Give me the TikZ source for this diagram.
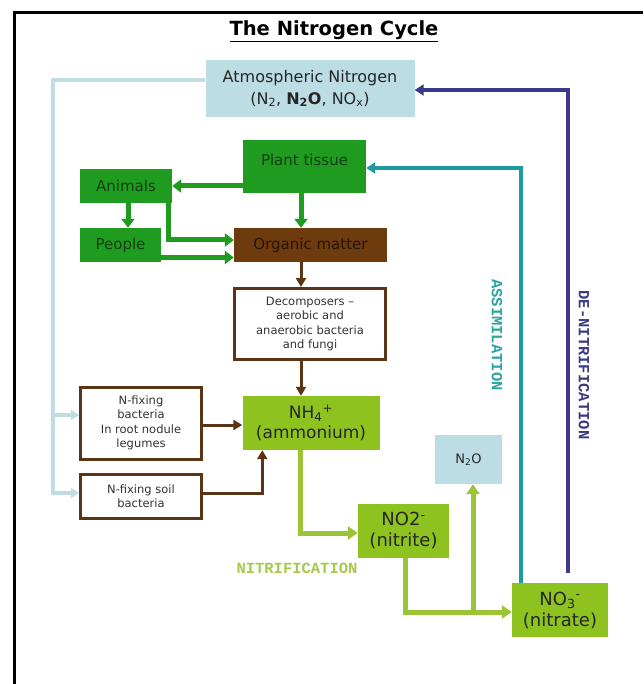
\documentclass[tikz,border=0pt]{standalone}
\usepackage{fontspec}
\setmainfont{DejaVu Sans}
\newfontfamily\labelfont{Liberation Mono}
\usetikzlibrary{arrows.meta}
\definecolor{lbfill}{HTML}{BCDDE3}
\definecolor{lbline}{HTML}{BFDDE2}
\definecolor{pgreen}{HTML}{1F9C1F}
\definecolor{gtext}{HTML}{123E12}
\definecolor{brownfill}{HTML}{6E3B0F}
\definecolor{browntext}{HTML}{2A1405}
\definecolor{brownline}{HTML}{5A3515}
\definecolor{limefill}{HTML}{8DC21F}
\definecolor{limeline}{HTML}{9CC536}
\definecolor{tealc}{HTML}{1F9A9E}
\definecolor{navyc}{HTML}{3B3A8A}
\definecolor{nitrtext}{HTML}{A6C94A}
\definecolor{assimtext}{HTML}{2BA3A3}
\definecolor{denitext}{HTML}{3B3A80}
\newcommand{\fsz}[2]{\fontsize{#1}{#2}\selectfont}
\tikzset{
  box/.style={rectangle, inner sep=0pt, align=center, anchor=center},
  lbbox/.style={box, fill=lbfill, text=black!85},
  gbox/.style={box, fill=pgreen, text=gtext, font=\fsz{15}{17}},
  lbox/.style={box, fill=limefill, text=black!85},
  wbox/.style={box, fill=white, draw=brownline, line width=3pt, text=black!80, font=\fsz{11.5}{14.4}},
  garrow/.style={draw=pgreen, line width=5pt, -{Triangle[length=9pt,width=13pt]}},
  larrow/.style={draw=limeline, line width=5pt, -{Triangle[length=10pt,width=13pt]}},
  barrow/.style={draw=brownline, line width=3pt, -{Triangle[length=9pt,width=10pt]}},
  lbarrow/.style={draw=lbline, line width=4pt, -{Triangle[length=8pt,width=10pt]}},
  lbpath/.style={draw=lbline, line width=4pt},
  tarrow/.style={draw=tealc, line width=4pt, -{Triangle[length=9pt,width=11pt]}},
  narrow/.style={draw=navyc, line width=4pt, -{Triangle[length=9pt,width=11pt]}},
  proclabel/.style={font=\labelfont\bfseries\fsz{15.5}{17}, inner sep=0pt}
}
\begin{document}
\begin{tikzpicture}[x=1pt,y=-1pt]
\useasboundingbox (0,0) rectangle (643,684);
\fill[white] (0,0) rectangle (643,684);
% frame
\draw[black, line width=3pt] (643,12.5) -- (14,12.5) -- (14,684);
% title
\node[box, font=\bfseries\fsz{19.5}{22}] (title) at (334,31) {\underline{The Nitrogen Cycle}};
% nodes
\node[lbbox, minimum width=209pt, minimum height=57pt, font=\fsz{16}{22}] (atm) at (310,88.5)
  {Atmospheric Nitrogen\\(N\textsubscript{2}, \textbf{N\textsubscript{2}O}, NO\textsubscript{x})};
\node[gbox, minimum width=123pt, minimum height=53pt, text depth=14pt] (plant) at (304.5,166.5) {Plant tissue};
\node[gbox, minimum width=92pt, minimum height=34pt] (animals) at (126,186) {Animals};
\node[gbox, minimum width=81pt, minimum height=34pt] (people) at (120.5,245) {People};
\node[box, fill=brownfill, text=browntext, font=\fsz{15}{17}, minimum width=153pt, minimum height=34pt] (organic) at (310.5,245) {Organic matter};
\node[wbox, minimum width=151pt, minimum height=71pt] (decomp) at (310,324)
  {Decomposers --\\aerobic and\\anaerobic bacteria\\and fungi};
\node[lbox, minimum width=137pt, minimum height=54pt, font=\fsz{17}{20}] (nh4) at (311,423)
  {NH\textsubscript{4}\textsuperscript{+}\\(ammonium)};
\node[wbox, minimum width=121pt, minimum height=72pt] (fixroot) at (141,423)
  {N-fixing\\bacteria\\In root nodule\\legumes};
\node[wbox, minimum width=121pt, minimum height=44pt] (fixsoil) at (141,496)
  {N-fixing soil\\bacteria};
\node[lbox, minimum width=91pt, minimum height=54pt, font=\fsz{18}{21}] (no2) at (403.5,531)
  {NO2\textsuperscript{-}\\(nitrite)};
\node[lbbox, minimum width=67pt, minimum height=49pt, font=\fsz{13}{15}] (n2o) at (468.5,459.5)
  {N\textsubscript{2}O};
\node[lbox, minimum width=96pt, minimum height=54pt, font=\fsz{18}{21}] (no3) at (560,610)
  {NO\textsubscript{3}\textsuperscript{-}\\(nitrate)};
% labels
\node[proclabel, text=nitrtext] (nitr) at (297,568) {NITRIFICATION};
\node[proclabel, text=assimtext, rotate=-90] (assim) at (497,335) {ASSIMILATION};
\node[proclabel, text=denitext, rotate=-90] (deni) at (584,365) {DE-NITRIFICATION};
% connectors
\coordinate (lbtop) at (53,415);
\coordinate (lbbot) at (53,493);
\draw[lbpath] ([yshift=8.5pt]atm.west) -| (lbtop);
\draw[lbarrow] ([yshift=1pt]atm.west -| lbtop) |- (lbbot -| fixsoil.west);
\draw[lbarrow] (lbtop) -- (lbtop -| fixroot.west);
\draw[narrow, shorten <=10pt] ([xshift=8pt]no3.north) |- ([yshift=-1.5pt]atm.east);
\draw[tarrow] ([xshift=-39pt]no3.north) |- ([yshift=-1.5pt]plant.east);
\draw[garrow] (plant.west |- animals.east) -- (animals.east);
\draw[garrow] ([xshift=-3.5pt]plant.south) -- ([xshift=-3.5pt]plant.south |- organic.north);
\draw[garrow] ([xshift=2pt]animals.south) -- ([xshift=2pt]animals.south |- people.north);
\draw[garrow] ([xshift=42pt]animals.south) |- ([yshift=5pt]organic.west);
\draw[garrow] ([yshift=-12.5pt]people.east) -- ([yshift=-12.5pt]people.east -| organic.west);
\draw[barrow] ([xshift=-9.5pt]organic.south) -- ([xshift=-9.5pt]organic.south |- decomp.north);
\draw[barrow] ([xshift=-9pt]decomp.south) -- ([xshift=-9pt]decomp.south |- nh4.north);
\draw[barrow] ([yshift=-2pt]fixroot.east) -- ([yshift=-2pt]fixroot.east -| nh4.west);
\draw[barrow] ([yshift=3pt]fixsoil.east) -| ([xshift=20pt]nh4.south west);
\draw[larrow] ([xshift=-11pt]nh4.south) |- ([yshift=-2pt]no2.west);
\coordinate (br) at (473,612);
\draw[larrow] ([xshift=1.5pt]no2.south) |- (br -| no3.west);
\draw[larrow] (br) -- (br |- n2o.south);
\end{tikzpicture}
\end{document}
